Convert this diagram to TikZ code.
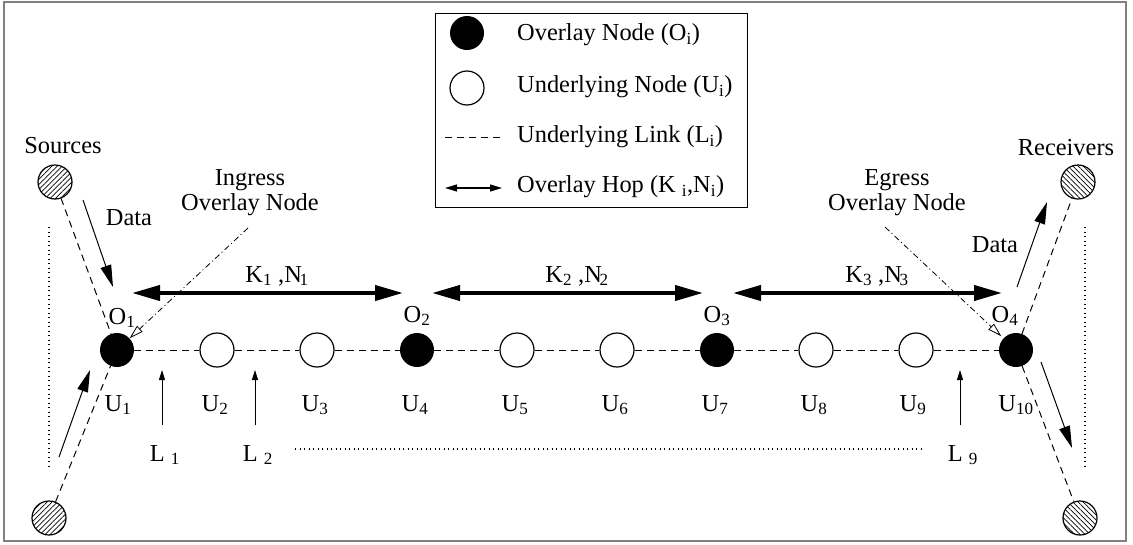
\documentclass[tikz,border=0pt]{standalone}
\usepackage{fontspec}
\setmainfont{Liberation Serif}
\usetikzlibrary{arrows.meta,patterns.meta}
\begin{document}
\begin{tikzpicture}[x=1pt,y=-1pt,
  every node/.style={font=\fontsize{24.4}{25}\selectfont,inner sep=0pt},
  onode/.style={circle,fill=black,minimum size=34pt,inner sep=0pt},
  unode/.style={circle,draw,line width=1.2pt,fill=white,minimum size=34pt,inner sep=0pt},
  hnodeA/.style={circle,draw,line width=1.2pt,minimum size=34pt,inner sep=0pt,
     pattern={Lines[angle=45,distance=3.6pt,line width=0.7pt]}},
  hnodeB/.style={circle,draw,line width=1.2pt,minimum size=34pt,inner sep=0pt,
     pattern={Lines[angle=-45,distance=3.6pt,line width=0.7pt]}},
  link/.style={dash pattern=on 7pt off 5pt,line width=1pt},
  hop/.style={line width=4pt,{Triangle[length=28pt,width=15pt]}-{Triangle[length=28pt,width=15pt]}},
  dataarr/.style={line width=1pt,-{Triangle[length=22pt,width=11pt]}},
  larr/.style={line width=1pt,-{Triangle[length=10pt,width=6pt]}},
  callout/.style={line width=0.8pt,dash pattern=on 6pt off 3pt on 1pt off 3pt,
     -{Triangle[open,length=14pt,width=8pt,line width=0.8pt]}},
  dots/.style={line width=1.1pt,dash pattern=on 1pt off 3.5pt}
]
\useasboundingbox (0,0) rectangle (1133,544);
\draw[gray,line width=1.5pt] (4,2) rectangle (1126,541);

% legend
\node[draw,line width=1pt,minimum width=312pt,minimum height=194pt] (legend) at (591,110) {};
\node[onode] (lg1) at (467,33) {};
\node[unode] (lg2) at (467,88) {};
\coordinate (lg3a) at (445,137);
\coordinate (lg3b) at (500,137);
\coordinate (lg4a) at (445,188);
\coordinate (lg4b) at (502,188);
\draw[link] (lg3a) -- (lg3b);
\draw[line width=1.2pt,{Triangle[length=12pt,width=7pt]}-{Triangle[length=12pt,width=7pt]}] (lg4a) -- (lg4b);
\node[anchor=west] (lt1) at (517,35) {Overlay Node (O\textsubscript{i})};
\node[anchor=west] (lt2) at (517,87) {Underlying Node (U\textsubscript{i})};
\node[anchor=west] (lt3) at (517,137) {Underlying Link (L\textsubscript{i})};
\node[anchor=west] (lt4) at (517,187) {Overlay Hop (K \textsubscript{i},N\textsubscript{i})};

% hosts
\node[hnodeA] (s1) at (55,182) {};
\node[hnodeA] (s2) at (49,518) {};
\node[hnodeB] (r1) at (1078,182) {};
\node[hnodeB] (r2) at (1080,518) {};
\node (srcl) at (63,146) {Sources};
\node (rcvl) at (1066,148) {Receivers};

% chain
\node[onode] (u1) at (117,350) {};
\node[unode] (u2) at (217,350) {};
\node[unode] (u3) at (317,350) {};
\node[onode] (u4) at (417,350) {};
\node[unode] (u5) at (517,350) {};
\node[unode] (u6) at (617,350) {};
\node[onode] (u7) at (717,350) {};
\node[unode] (u8) at (816,350) {};
\node[unode] (u9) at (916,350) {};
\node[onode] (u10) at (1016,350) {};
\foreach \a/\b in {1/2,2/3,3/4,4/5,5/6,6/7,7/8,8/9,9/10}
  \draw[link] (u\a) -- (u\b);
\draw[link] (s1) -- (u1);
\draw[link] (s2) -- (u1);
\draw[link] (u10) -- (r1);
\draw[link] (u10) -- (r2);

% labels
\node (ol1) at (122,318) {O\textsubscript{1}};
\node (ol2) at (417,316) {O\textsubscript{2}};
\node (ol3) at (717,316) {O\textsubscript{3}};
\node (ol4) at (1005,316) {O\textsubscript{4}};
\foreach \i/\x in {1/118,2/215,3/315,4/415,5/515,6/615,7/715,8/814,9/913,10/1016}
  \node (ul\i) at (\x,405) {U\textsubscript{\i}};

% hop arrows
\coordinate (h1a) at (132,293); \coordinate (h1b) at (403,293);
\coordinate (h2a) at (432,293); \coordinate (h2b) at (703,293);
\coordinate (h3a) at (733,293); \coordinate (h3b) at (1002,293);
\draw[hop] (h1a) -- (h1b);
\draw[hop] (h2a) -- (h2b);
\draw[hop] (h3a) -- (h3b);
\node (k1) at (277,276) {K\textsubscript{1} ,N\kern-0.1em\textsubscript{1}};
\node (k2) at (577,276) {K\textsubscript{2} ,N\kern-0.1em\textsubscript{2}};
\node (k3) at (877,276) {K\textsubscript{3} ,N\kern-0.1em\textsubscript{3}};

% L arrows
\coordinate (l1a) at (162,425); \coordinate (l1b) at (162,370);
\coordinate (l2a) at (255,425); \coordinate (l2b) at (255,370);
\coordinate (l9a) at (960,425); \coordinate (l9b) at (960,370);
\draw[larr] (l1a) -- (l1b);
\draw[larr] (l2a) -- (l2b);
\draw[larr] (l9a) -- (l9b);
\node (ll1) at (165,455) {L \textsubscript{1}};
\node (ll2) at (258,455) {L \textsubscript{2}};
\node (ll9) at (963,455) {L \textsubscript{9}};

% dotted lines
\coordinate (dh1) at (295,449); \coordinate (dh2) at (923,449);
\coordinate (dv1) at (49,227); \coordinate (dv2) at (49,468);
\coordinate (dv3) at (1085,227); \coordinate (dv4) at (1085,468);
\draw[dots] (dh1) -- (dh2);
\draw[dots] (dv1) -- (dv2);
\draw[dots] (dv3) -- (dv4);

% data arrows
\coordinate (d1a) at (83,200); \coordinate (d1b) at (113,287);
\coordinate (d2a) at (59,457); \coordinate (d2b) at (90,370);
\coordinate (d3a) at (1017,287); \coordinate (d3b) at (1047,202);
\coordinate (d4a) at (1041,362); \coordinate (d4b) at (1072,448);
\draw[dataarr] (d1a) -- (d1b);
\draw[dataarr] (d2a) -- (d2b);
\draw[dataarr] (d3a) -- (d3b);
\draw[dataarr] (d4a) -- (d4b);
\node (dl1) at (129,218) {Data};
\node (dl2) at (995,245) {Data};

% ingress / egress
\node[align=center] (ing) at (250,193) {Ingress\\Overlay Node};
\node[align=center] (egr) at (897,193) {Egress\\Overlay Node};
\coordinate (ings) at (248,228);
\coordinate (egrs) at (885,227);
\draw[callout] (ings) -- (u1);
\draw[callout,shorten >=3pt] (egrs) -- (u10);
\end{tikzpicture}
\end{document}
